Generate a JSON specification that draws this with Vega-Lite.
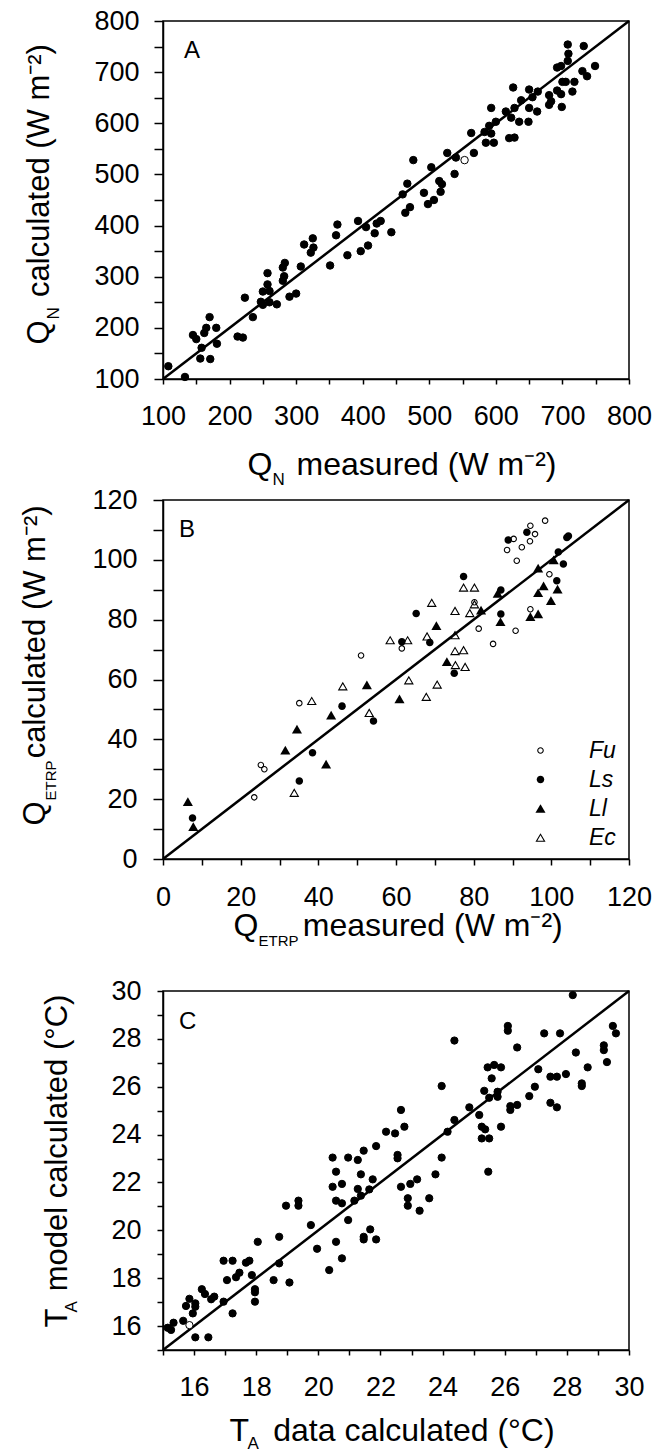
{
"$schema":"https://vega.github.io/schema/vega-lite/v6.json",
"padding":{"left":18,"top":6,"right":0,"bottom":0},
"autosize":{"type":"pad"},
"spacing":-3,
"config":{
 "font":"Liberation Sans",
 "view":{"stroke":"black","strokeWidth":1.5},
 "axis":{"domainColor":"black","domainWidth":1.5,"tickColor":"black","tickWidth":1.5,"labelColor":"black","labelFontSize":27,"labelFont":"Liberation Sans","titleColor":"black","titleFont":"Liberation Sans","titleFontWeight":"normal","grid":false,"labelOverlap":false,"labelFlush":false},
 "title":{"fontSize":24,"fontWeight":"normal","color":"black","font":"Liberation Sans"}
},
"vconcat":[
{
 "width":466,"height":358,
 "title":{"text":"A","anchor":"start","frame":"group","dx":21,"offset":-75,"baseline":"alphabetic"},
 "resolve":{"axis":{"x":"independent","y":"independent"}},
 "layer":[
  {"data":{"values":[{"measured":100,"calculated":100},{"measured":800,"calculated":800}]},
   "mark":{"type":"line","color":"black","strokeWidth":2.5},
   "encoding":{
    "x":{"field":"measured","type":"quantitative","scale":{"domain":[100,800],"nice":false,"zero":false},
     "axis":{"orient":"bottom","values":[100,150,200,250,300,350,400,450,500,550,600,650,700,750,800],"labelExpr":"datum.value % 100 === 0 ? datum.label : ''","tickSize":5,"labelPadding":19,
      "title":"Q\u00a0\u00a0\u2009measured (W m\u207b\u00b2)","titleFontSize":32,"titleX":84,"titleY":95,"titleAlign":"left","titleBaseline":"alphabetic","titleAngle":0}},
    "y":{"field":"calculated","type":"quantitative","scale":{"domain":[100,800],"nice":false,"zero":false},
     "axis":{"orient":"left","values":[100,150,200,250,300,350,400,450,500,550,600,650,700,750,800],"labelExpr":"datum.value % 100 === 0 ? datum.label : ''","tickSize":9,"labelPadding":15,
      "title":"Q\u00a0\u00a0\u2009calculated (W m\u207b\u00b2)","titleFontSize":31,"titleX":-115,"titleY":323,"titleAlign":"left","titleBaseline":"alphabetic","titleAngle":-90}}
   }},
  {"data":{"values":[
{"measured":708,"calculated":754,"marker":"filled"},{"measured":732,"calculated":751,"marker":"filled"},{"measured":709,"calculated":736,"marker":"filled"},{"measured":708,"calculated":722,"marker":"filled"},{"measured":692,"calculated":709,"marker":"filled"},{"measured":698,"calculated":712,"marker":"filled"},{"measured":749,"calculated":712,"marker":"filled"},{"measured":730,"calculated":702,"marker":"filled"},{"measured":737,"calculated":692,"marker":"filled"},{"measured":700,"calculated":681,"marker":"filled"},{"measured":705,"calculated":681,"marker":"filled"},{"measured":718,"calculated":681,"marker":"filled"},{"measured":715,"calculated":662,"marker":"filled"},{"measured":692,"calculated":664,"marker":"filled"},{"measured":698,"calculated":657,"marker":"filled"},{"measured":680,"calculated":655,"marker":"filled"},{"measured":683,"calculated":643,"marker":"filled"},{"measured":680,"calculated":636,"marker":"filled"},{"measured":699,"calculated":632,"marker":"filled"},{"measured":650,"calculated":666,"marker":"filled"},{"measured":626,"calculated":670,"marker":"filled"},{"measured":663,"calculated":662,"marker":"filled"},{"measured":655,"calculated":651,"marker":"filled"},{"measured":638,"calculated":645,"marker":"filled"},{"measured":650,"calculated":630,"marker":"filled"},{"measured":662,"calculated":623,"marker":"filled"},{"measured":628,"calculated":630,"marker":"filled"},{"measured":615,"calculated":623,"marker":"filled"},{"measured":623,"calculated":611,"marker":"filled"},{"measured":649,"calculated":603,"marker":"filled"},{"measured":635,"calculated":603,"marker":"filled"},{"measured":593,"calculated":630,"marker":"filled"},{"measured":600,"calculated":603,"marker":"filled"},{"measured":590,"calculated":595,"marker":"filled"},{"measured":583,"calculated":583,"marker":"filled"},{"measured":593,"calculated":580,"marker":"filled"},{"measured":585,"calculated":562,"marker":"filled"},{"measured":597,"calculated":562,"marker":"filled"},{"measured":620,"calculated":571,"marker":"filled"},{"measured":628,"calculated":572,"marker":"filled"},{"measured":563,"calculated":581,"marker":"filled"},{"measured":567,"calculated":542,"marker":"filled"},{"measured":527,"calculated":542,"marker":"filled"},{"measured":540,"calculated":533,"marker":"filled"},{"measured":553,"calculated":528,"marker":"open"},{"measured":538,"calculated":501,"marker":"filled"},{"measured":476,"calculated":528,"marker":"filled"},{"measured":503,"calculated":514,"marker":"filled"},{"measured":515,"calculated":487,"marker":"filled"},{"measured":519,"calculated":481,"marker":"filled"},{"measured":467,"calculated":482,"marker":"filled"},{"measured":460,"calculated":461,"marker":"filled"},{"measured":492,"calculated":464,"marker":"filled"},{"measured":517,"calculated":466,"marker":"filled"},{"measured":507,"calculated":450,"marker":"filled"},{"measured":498,"calculated":442,"marker":"filled"},{"measured":471,"calculated":436,"marker":"filled"},{"measured":464,"calculated":425,"marker":"filled"},{"measured":427,"calculated":409,"marker":"filled"},{"measured":421,"calculated":404,"marker":"filled"},{"measured":393,"calculated":409,"marker":"filled"},{"measured":405,"calculated":397,"marker":"filled"},{"measured":418,"calculated":385,"marker":"filled"},{"measured":443,"calculated":387,"marker":"filled"},{"measured":362,"calculated":402,"marker":"filled"},{"measured":360,"calculated":381,"marker":"filled"},{"measured":408,"calculated":361,"marker":"filled"},{"measured":397,"calculated":350,"marker":"filled"},{"measured":377,"calculated":342,"marker":"filled"},{"measured":325,"calculated":375,"marker":"filled"},{"measured":312,"calculated":363,"marker":"filled"},{"measured":326,"calculated":357,"marker":"filled"},{"measured":322,"calculated":347,"marker":"filled"},{"measured":283,"calculated":327,"marker":"filled"},{"measured":280,"calculated":318,"marker":"filled"},{"measured":307,"calculated":320,"marker":"filled"},{"measured":351,"calculated":322,"marker":"filled"},{"measured":257,"calculated":307,"marker":"filled"},{"measured":282,"calculated":301,"marker":"filled"},{"measured":280,"calculated":292,"marker":"filled"},{"measured":257,"calculated":285,"marker":"filled"},{"measured":250,"calculated":271,"marker":"filled"},{"measured":260,"calculated":272,"marker":"filled"},{"measured":223,"calculated":259,"marker":"filled"},{"measured":247,"calculated":251,"marker":"filled"},{"measured":250,"calculated":245,"marker":"filled"},{"measured":260,"calculated":250,"marker":"filled"},{"measured":271,"calculated":246,"marker":"filled"},{"measured":290,"calculated":261,"marker":"filled"},{"measured":300,"calculated":267,"marker":"filled"},{"measured":235,"calculated":221,"marker":"filled"},{"measured":212,"calculated":183,"marker":"filled"},{"measured":220,"calculated":181,"marker":"filled"},{"measured":170,"calculated":221,"marker":"filled"},{"measured":165,"calculated":200,"marker":"filled"},{"measured":180,"calculated":200,"marker":"filled"},{"measured":162,"calculated":190,"marker":"filled"},{"measured":145,"calculated":186,"marker":"filled"},{"measured":150,"calculated":178,"marker":"filled"},{"measured":158,"calculated":161,"marker":"filled"},{"measured":181,"calculated":169,"marker":"filled"},{"measured":156,"calculated":140,"marker":"filled"},{"measured":171,"calculated":139,"marker":"filled"},{"measured":108,"calculated":125,"marker":"filled"},{"measured":133,"calculated":104,"marker":"filled"}
   ]},
   "mark":{"type":"point","filled":true,"opacity":1,"size":56,"stroke":"black","strokeWidth":1},
   "encoding":{
    "x":{"field":"measured","type":"quantitative","axis":{"orient":"bottom","domain":false,"ticks":false,"labels":false,"title":"N","titleFontSize":17,"titleX":109,"titleY":105,"titleAlign":"left","titleBaseline":"alphabetic","titleAngle":0}},
    "y":{"field":"calculated","type":"quantitative","axis":{"orient":"left","domain":false,"ticks":false,"labels":false,"title":"N","titleFontSize":17,"titleX":-105,"titleY":298,"titleAlign":"left","titleBaseline":"alphabetic","titleAngle":-90}},
    "fill":{"field":"marker","type":"nominal","scale":{"domain":["filled","open"],"range":["black","white"]},"legend":null}
   }}
 ]
},
{
 "width":466,"height":359,
 "title":{"text":"B","anchor":"start","frame":"group","dx":16,"offset":-75,"baseline":"alphabetic"},
 "resolve":{"axis":{"x":"independent","y":"independent"}},
 "layer":[
  {"data":{"values":[{"measured":0,"calculated":0},{"measured":120,"calculated":120}]},
   "mark":{"type":"line","color":"black","strokeWidth":2.5},
   "encoding":{
    "x":{"field":"measured","type":"quantitative","scale":{"domain":[0,120],"nice":false,"zero":false},
     "axis":{"orient":"bottom","values":[0,10,20,30,40,50,60,70,80,90,100,110,120],"labelExpr":"datum.value % 20 === 0 ? datum.label : ''","tickSize":6,"labelPadding":19,
      "title":"Q\u00a0\u00a0\u00a0\u00a0\u00a0measured (W m\u207b\u00b2)","titleFontSize":32,"titleX":70,"titleY":76,"titleAlign":"left","titleBaseline":"alphabetic","titleAngle":0}},
    "y":{"field":"calculated","type":"quantitative","scale":{"domain":[0,120],"nice":false,"zero":false},
     "axis":{"orient":"left","values":[0,10,20,30,40,50,60,70,80,90,100,110,120],"labelExpr":"datum.value % 20 === 0 ? datum.label : ''","tickSize":10,"labelPadding":16,
      "title":"Q\u00a0\u00a0\u00a0\u00a0\u00a0calculated (W m\u207b\u00b2)","titleFontSize":31,"titleX":-119,"titleY":325,"titleAlign":"left","titleBaseline":"alphabetic","titleAngle":-90}}
   }},
  {"data":{"values":[
{"measured":98.4,"calculated":113.1,"species":"Fu"},{"measured":94.6,"calculated":111.4,"species":"Fu"},{"measured":95.8,"calculated":108.6,"species":"Fu"},{"measured":90.3,"calculated":107,"species":"Fu"},{"measured":94.5,"calculated":106.2,"species":"Fu"},{"measured":92.4,"calculated":104.2,"species":"Fu"},{"measured":88.6,"calculated":103.3,"species":"Fu"},{"measured":91.1,"calculated":99.7,"species":"Fu"},{"measured":99.5,"calculated":95.2,"species":"Fu"},{"measured":94.6,"calculated":83.5,"species":"Fu"},{"measured":80.2,"calculated":85.8,"species":"Fu"},{"measured":81.3,"calculated":77,"species":"Fu"},{"measured":90.8,"calculated":76.3,"species":"Fu"},{"measured":85,"calculated":71.9,"species":"Fu"},{"measured":61.5,"calculated":70.4,"species":"Fu"},{"measured":51,"calculated":68,"species":"Fu"},{"measured":35.1,"calculated":52.1,"species":"Fu"},{"measured":25.2,"calculated":31.4,"species":"Fu"},{"measured":26.1,"calculated":30,"species":"Fu"},{"measured":23.5,"calculated":20.6,"species":"Fu"},
{"measured":93.7,"calculated":109.2,"species":"Ls"},{"measured":88.9,"calculated":106.6,"species":"Ls"},{"measured":104.4,"calculated":108,"species":"Ls"},{"measured":104,"calculated":107.5,"species":"Ls"},{"measured":101.8,"calculated":102.6,"species":"Ls"},{"measured":103.1,"calculated":98.6,"species":"Ls"},{"measured":101.4,"calculated":93,"species":"Ls"},{"measured":77.4,"calculated":94.4,"species":"Ls"},{"measured":87,"calculated":89.9,"species":"Ls"},{"measured":87,"calculated":81.9,"species":"Ls"},{"measured":65.2,"calculated":82.1,"species":"Ls"},{"measured":68.7,"calculated":72.4,"species":"Ls"},{"measured":61.5,"calculated":72.6,"species":"Ls"},{"measured":75,"calculated":62.1,"species":"Ls"},{"measured":46.1,"calculated":51.1,"species":"Ls"},{"measured":54.2,"calculated":46.1,"species":"Ls"},{"measured":38.5,"calculated":35.5,"species":"Ls"},{"measured":35.1,"calculated":26.1,"species":"Ls"},{"measured":7.6,"calculated":13.7,"species":"Ls"},
{"measured":100.6,"calculated":100,"species":"Ll"},{"measured":96.6,"calculated":97.2,"species":"Ll"},{"measured":98,"calculated":91.3,"species":"Ll"},{"measured":96.6,"calculated":89,"species":"Ll"},{"measured":101.6,"calculated":90.2,"species":"Ll"},{"measured":99.9,"calculated":86.4,"species":"Ll"},{"measured":94.6,"calculated":81,"species":"Ll"},{"measured":96.6,"calculated":81.9,"species":"Ll"},{"measured":86.2,"calculated":88.8,"species":"Ll"},{"measured":86.9,"calculated":79.3,"species":"Ll"},{"measured":81.9,"calculated":83.2,"species":"Ll"},{"measured":70.4,"calculated":78,"species":"Ll"},{"measured":73.1,"calculated":66,"species":"Ll"},{"measured":52.5,"calculated":58.2,"species":"Ll"},{"measured":60.9,"calculated":53.5,"species":"Ll"},{"measured":43.3,"calculated":48.1,"species":"Ll"},{"measured":34.5,"calculated":43.4,"species":"Ll"},{"measured":31.5,"calculated":36.4,"species":"Ll"},{"measured":42,"calculated":31.7,"species":"Ll"},{"measured":6.4,"calculated":19.2,"species":"Ll"},{"measured":7.8,"calculated":10.8,"species":"Ll"},
{"measured":77.4,"calculated":90.8,"species":"Ec"},{"measured":80.2,"calculated":90.8,"species":"Ec"},{"measured":69.2,"calculated":85.7,"species":"Ec"},{"measured":75.2,"calculated":83,"species":"Ec"},{"measured":79,"calculated":82.3,"species":"Ec"},{"measured":80.2,"calculated":85.2,"species":"Ec"},{"measured":75.2,"calculated":74.9,"species":"Ec"},{"measured":58.5,"calculated":73.2,"species":"Ec"},{"measured":63,"calculated":73.2,"species":"Ec"},{"measured":68,"calculated":74.5,"species":"Ec"},{"measured":75.2,"calculated":69.6,"species":"Ec"},{"measured":77.4,"calculated":69.9,"species":"Ec"},{"measured":75.3,"calculated":64.9,"species":"Ec"},{"measured":77.8,"calculated":64.3,"species":"Ec"},{"measured":63.3,"calculated":59.8,"species":"Ec"},{"measured":70.6,"calculated":58.4,"species":"Ec"},{"measured":67.8,"calculated":54.3,"species":"Ec"},{"measured":46.3,"calculated":57.8,"species":"Ec"},{"measured":38.3,"calculated":52.9,"species":"Ec"},{"measured":53.1,"calculated":48.9,"species":"Ec"},{"measured":33.8,"calculated":22.2,"species":"Ec"}
   ]},
   "mark":{"type":"point","filled":true,"opacity":1,"color":"black","size":60,"strokeWidth":0},
   "encoding":{
    "x":{"field":"measured","type":"quantitative","axis":{"orient":"bottom","domain":false,"ticks":false,"labels":false,"title":["ETRP","\u00a0"],"titleLineHeight":30,"titleFontSize":15,"titleX":95,"titleY":74,"titleAlign":"left","titleBaseline":"top","titleAngle":0}},
    "y":{"field":"calculated","type":"quantitative","axis":{"orient":"left","domain":false,"ticks":false,"labels":false,"title":"ETRP","titleFontSize":15,"titleX":-108,"titleY":300,"titleAlign":"left","titleBaseline":"alphabetic","titleAngle":-90}},
    "shape":{"field":"species","type":"nominal","scale":{"domain":["Fu","Ls","Ll","Ec"],"range":[
      "M0.85,0A0.85,0.85,0,1,1,-0.85,0A0.85,0.85,0,1,1,0.85,0ZM0.57,0A0.57,0.57,0,1,0,-0.57,0A0.57,0.57,0,1,0,0.57,0Z",
      "M0.97,0A0.97,0.97,0,1,1,-0.97,0A0.97,0.97,0,1,1,0.97,0Z",
      "M0,-1.126L-1.3,1.126L1.3,1.126Z",
      "M0,-1.126L-1.3,1.126L1.3,1.126ZM0,-0.557L0.807,0.841L-0.807,0.841Z"]},
     "legend":{"orient":"none","legendX":366,"legendY":718,"title":null,"labelFontSize":23,"labelFontStyle":"italic","labelColor":"black","labelOffset":37,"rowPadding":5,"padding":0,"symbolSize":60,"symbolFillColor":"black","symbolStrokeWidth":0,"symbolOpacity":1}}
   }}
 ]
},
{
 "width":466,"height":359,
 "title":{"text":"C","anchor":"start","frame":"group","dx":16,"offset":-76,"baseline":"alphabetic"},
 "resolve":{"axis":{"x":"independent","y":"independent"}},
 "layer":[
  {"data":{"values":[{"data":15,"model":15},{"data":30,"model":30}]},
   "mark":{"type":"line","color":"black","strokeWidth":2.5},
   "encoding":{
    "x":{"field":"data","type":"quantitative","scale":{"domain":[15,30],"nice":false,"zero":false},
     "axis":{"orient":"bottom","values":[15,16,17,18,19,20,21,22,23,24,25,26,27,28,29,30],"labelExpr":"datum.value % 2 === 0 ? datum.label : ''","tickSize":5,"labelPadding":19,
      "title":"T\u00a0\u00a0\u2009data calculated (\u00b0C)","titleFontSize":32,"titleX":66,"titleY":90,"titleAlign":"left","titleBaseline":"alphabetic","titleAngle":0}},
    "y":{"field":"model","type":"quantitative","scale":{"domain":[15,30],"nice":false,"zero":false},
     "axis":{"orient":"left","values":[15,16,17,18,19,20,21,22,23,24,25,26,27,28,29,30],"labelExpr":"datum.value % 2 === 0 ? datum.label : ''","tickSize":6,"labelPadding":16,
      "title":"T\u00a0\u00a0model calculated (\u00b0C)","titleFontSize":31,"titleX":-97,"titleY":336,"titleAlign":"left","titleBaseline":"alphabetic","titleAngle":-90}}
   }},
  {"data":{"values":[
{"data":28.19,"model":29.83,"marker":"filled"},{"data":26.1,"model":28.54,"marker":"filled"},{"data":26.1,"model":28.34,"marker":"filled"},{"data":27.27,"model":28.23,"marker":"filled"},{"data":27.78,"model":28.23,"marker":"filled"},{"data":24.38,"model":27.93,"marker":"filled"},{"data":29.48,"model":28.54,"marker":"filled"},{"data":29.58,"model":28.23,"marker":"filled"},{"data":26.4,"model":27.64,"marker":"filled"},{"data":28.29,"model":27.43,"marker":"filled"},{"data":29.19,"model":27.73,"marker":"filled"},{"data":29.19,"model":27.53,"marker":"filled"},{"data":29.29,"model":27.03,"marker":"filled"},{"data":28.67,"model":26.81,"marker":"filled"},{"data":25.45,"model":26.81,"marker":"filled"},{"data":25.66,"model":26.91,"marker":"filled"},{"data":25.88,"model":26.81,"marker":"filled"},{"data":25.58,"model":26.35,"marker":"filled"},{"data":27.08,"model":26.73,"marker":"filled"},{"data":27.47,"model":26.42,"marker":"filled"},{"data":27.68,"model":26.42,"marker":"filled"},{"data":27.97,"model":26.53,"marker":"filled"},{"data":28.48,"model":26.14,"marker":"filled"},{"data":28.48,"model":26.03,"marker":"filled"},{"data":23.97,"model":26.03,"marker":"filled"},{"data":25.34,"model":25.83,"marker":"filled"},{"data":25.77,"model":25.79,"marker":"filled"},{"data":25.77,"model":25.58,"marker":"filled"},{"data":25.5,"model":25.54,"marker":"filled"},{"data":26.97,"model":26.0,"marker":"filled"},{"data":26.79,"model":25.61,"marker":"filled"},{"data":27.47,"model":25.33,"marker":"filled"},{"data":27.68,"model":25.14,"marker":"filled"},{"data":26.18,"model":25.19,"marker":"filled"},{"data":26.4,"model":25.24,"marker":"filled"},{"data":26.18,"model":25.03,"marker":"filled"},{"data":24.86,"model":25.14,"marker":"filled"},{"data":25.18,"model":24.82,"marker":"filled"},{"data":24.38,"model":24.61,"marker":"filled"},{"data":24.16,"model":24.12,"marker":"filled"},{"data":25.26,"model":24.33,"marker":"filled"},{"data":25.37,"model":24.22,"marker":"filled"},{"data":25.88,"model":24.33,"marker":"filled"},{"data":22.66,"model":25.03,"marker":"filled"},{"data":22.77,"model":24.33,"marker":"filled"},{"data":22.18,"model":24.12,"marker":"filled"},{"data":22.47,"model":24.05,"marker":"filled"},{"data":25.26,"model":23.84,"marker":"filled"},{"data":25.5,"model":23.84,"marker":"filled"},{"data":25.47,"model":22.45,"marker":"filled"},{"data":22.55,"model":23.15,"marker":"filled"},{"data":22.55,"model":23.01,"marker":"filled"},{"data":23.97,"model":23.04,"marker":"filled"},{"data":20.46,"model":23.04,"marker":"filled"},{"data":20.96,"model":23.04,"marker":"filled"},{"data":21.27,"model":22.94,"marker":"filled"},{"data":21.46,"model":23.33,"marker":"filled"},{"data":21.86,"model":23.52,"marker":"filled"},{"data":20.57,"model":22.45,"marker":"filled"},{"data":21.37,"model":22.34,"marker":"filled"},{"data":20.76,"model":21.94,"marker":"filled"},{"data":20.46,"model":21.82,"marker":"filled"},{"data":21.27,"model":21.73,"marker":"filled"},{"data":21.75,"model":22.13,"marker":"filled"},{"data":21.64,"model":21.71,"marker":"filled"},{"data":21.37,"model":21.45,"marker":"filled"},{"data":21.16,"model":21.24,"marker":"filled"},{"data":20.57,"model":21.24,"marker":"filled"},{"data":20.76,"model":21.13,"marker":"filled"},{"data":22.66,"model":21.82,"marker":"filled"},{"data":22.96,"model":21.94,"marker":"filled"},{"data":23.18,"model":22.13,"marker":"filled"},{"data":22.88,"model":21.34,"marker":"filled"},{"data":22.88,"model":21.03,"marker":"filled"},{"data":23.26,"model":20.82,"marker":"filled"},{"data":23.57,"model":21.34,"marker":"filled"},{"data":23.77,"model":22.34,"marker":"filled"},{"data":20.96,"model":20.43,"marker":"filled"},{"data":19.76,"model":20.22,"marker":"filled"},{"data":19.96,"model":19.23,"marker":"filled"},{"data":18.96,"model":21.03,"marker":"filled"},{"data":19.36,"model":21.24,"marker":"filled"},{"data":19.36,"model":21.03,"marker":"filled"},{"data":18.74,"model":19.73,"marker":"filled"},{"data":18.05,"model":19.52,"marker":"filled"},{"data":20.57,"model":19.52,"marker":"filled"},{"data":21.46,"model":19.73,"marker":"filled"},{"data":21.46,"model":19.62,"marker":"filled"},{"data":21.67,"model":20.04,"marker":"filled"},{"data":21.86,"model":19.62,"marker":"filled"},{"data":20.76,"model":18.83,"marker":"filled"},{"data":20.35,"model":18.34,"marker":"filled"},{"data":18.74,"model":18.62,"marker":"filled"},{"data":18.56,"model":17.92,"marker":"filled"},{"data":19.07,"model":17.82,"marker":"filled"},{"data":16.95,"model":18.73,"marker":"filled"},{"data":17.24,"model":18.73,"marker":"filled"},{"data":17.67,"model":18.65,"marker":"filled"},{"data":17.78,"model":18.73,"marker":"filled"},{"data":17.46,"model":18.23,"marker":"filled"},{"data":17.35,"model":18.04,"marker":"filled"},{"data":17.06,"model":17.92,"marker":"filled"},{"data":17.86,"model":18.13,"marker":"filled"},{"data":17.96,"model":17.54,"marker":"filled"},{"data":17.96,"model":17.41,"marker":"filled"},{"data":17.96,"model":17.02,"marker":"filled"},{"data":16.95,"model":17.02,"marker":"filled"},{"data":17.24,"model":16.53,"marker":"filled"},{"data":16.25,"model":17.54,"marker":"filled"},{"data":16.35,"model":17.34,"marker":"filled"},{"data":16.55,"model":17.12,"marker":"filled"},{"data":16.65,"model":17.23,"marker":"filled"},{"data":15.85,"model":17.14,"marker":"filled"},{"data":15.74,"model":16.84,"marker":"filled"},{"data":16.04,"model":16.95,"marker":"filled"},{"data":16.04,"model":16.81,"marker":"filled"},{"data":15.96,"model":16.53,"marker":"filled"},{"data":15.65,"model":16.22,"marker":"filled"},{"data":15.85,"model":16.04,"marker":"open"},{"data":15.34,"model":16.14,"marker":"filled"},{"data":15.15,"model":15.93,"marker":"filled"},{"data":15.26,"model":15.84,"marker":"filled"},{"data":16.04,"model":15.53,"marker":"filled"},{"data":16.46,"model":15.53,"marker":"filled"}
   ]},
   "mark":{"type":"point","filled":true,"opacity":1,"size":53,"stroke":"black","strokeWidth":1},
   "encoding":{
    "x":{"field":"data","type":"quantitative","axis":{"orient":"bottom","domain":false,"ticks":false,"labels":false,"title":"A","titleFontSize":17,"titleX":84,"titleY":98,"titleAlign":"left","titleBaseline":"alphabetic","titleAngle":0}},
    "y":{"field":"model","type":"quantitative","axis":{"orient":"left","domain":false,"ticks":false,"labels":false,"title":"A","titleFontSize":17,"titleX":-87,"titleY":321,"titleAlign":"left","titleBaseline":"alphabetic","titleAngle":-90}},
    "fill":{"field":"marker","type":"nominal","scale":{"domain":["filled","open"],"range":["black","white"]},"legend":null}
   }}
 ]
}
]
}
